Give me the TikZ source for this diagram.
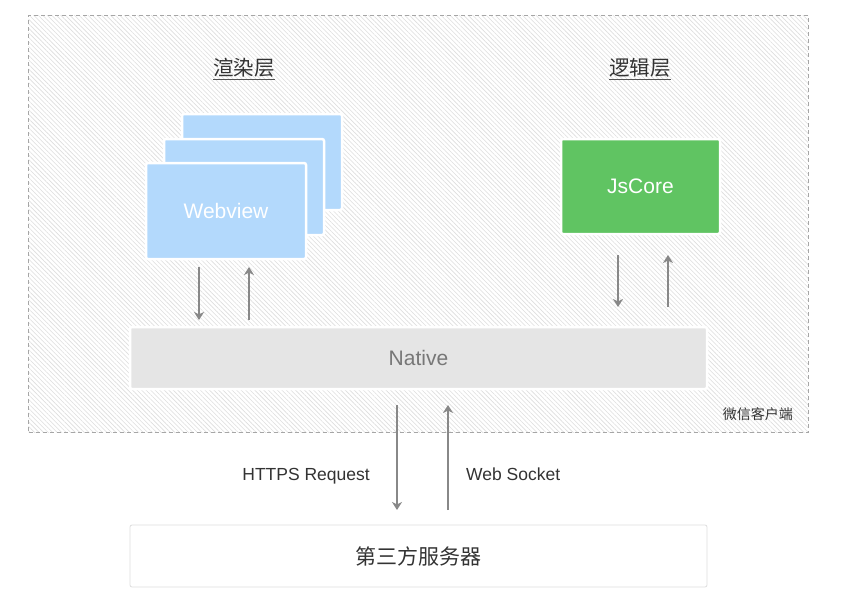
\documentclass[tikz,border=0pt]{standalone}
\usepackage{fontspec}
\setmainfont{Liberation Sans}
\newfontfamily\cjk{Noto Sans CJK SC}
\usetikzlibrary{arrows.meta, positioning, patterns.meta}
\definecolor{webblue}{RGB}{179,217,252}
\definecolor{coregreen}{RGB}{96,196,98}
\definecolor{nativegray}{RGB}{229,229,229}
\definecolor{nativetext}{RGB}{119,119,119}
\definecolor{arrowgray}{RGB}{136,136,136}
\definecolor{textdark}{RGB}{51,51,51}

\begin{document}
\begin{tikzpicture}[x=1pt, y=-1pt,
    box/.style={draw=white, line width=2.5pt, rounded corners=2pt, inner sep=0pt, outer sep=0pt},
    webbox/.style={box, fill=webblue, minimum width=160pt, minimum height=96pt},
    boxtext/.style={text=white, font=\fontsize{21}{25}\selectfont},
    flow/.style={-{Stealth[length=8pt, width=10pt, inset=2.5pt]}, arrowgray, line width=1.2pt},
    layertitle/.style={font=\cjk\fontsize{20.5}{24}\selectfont, text=textdark, inner sep=0pt, anchor=base},
    uline/.style={textdark!85, line width=1.6pt},
    lbl/.style={font=\fontsize{17.5}{21}\selectfont, text=textdark, inner sep=0pt}]
    \useasboundingbox (0,0) rectangle (846,597);
    \fill[white] (0,0) rectangle (846,597);

    % client frame
    \node[draw=black!35, line width=0.8pt, dash pattern=on 4pt off 3pt,
          pattern={Lines[angle=-45, distance=3.2pt, line width=0.6pt]}, pattern color=black!13,
          minimum width=779.5pt, minimum height=417pt, inner sep=0pt, outer sep=0pt]
          (client) at (418.25,224) {};
    \node[font=\cjk\fontsize{14}{16}\selectfont, text=textdark, anchor=south east, inner sep=0pt]
          (wechat) at ([xshift=-15pt, yshift=12pt]client.south east) {微信客户端};

    % titles
    \node[layertitle] (render) at (244,75) {渲染层};
    \node[layertitle] (logic) at (640,75) {逻辑层};
    \draw[uline] ([yshift=-4.5pt]render.base west) -- ([yshift=-4.5pt]render.base east);
    \draw[uline] ([yshift=-4.5pt]logic.base west) -- ([yshift=-4.5pt]logic.base east);

    % render layer
    \node[webbox] (web3) at (262,162) {};
    \node[webbox] (web2) at (244,187) {};
    \node[webbox, boxtext] (web1) at (226,211) {Webview};

    % logic layer
    \node[box, boxtext, fill=coregreen, minimum width=159pt, minimum height=95pt] (jscore) at (640.5,186.5) {JsCore};

    % native
    \node[box, fill=nativegray, minimum width=577pt, minimum height=62pt,
          text=nativetext, font=\fontsize{21}{25}\selectfont] (native) at (418.5,358) {Native};

    % server
    \node[draw=black!13, fill=white, line width=0.8pt, rounded corners=2pt, inner sep=0pt, outer sep=0pt,
          minimum width=577pt, minimum height=62pt, text=textdark, font=\cjk\fontsize{21}{25}\selectfont]
          (server) at (418.5,556) {第三方服务器};

    \draw[flow, shorten <=8pt, shorten >=7pt] ([xshift=-27pt]web1.south) -- ([xshift=-27pt]web1.south |- native.north);
    \draw[flow, shorten <=7pt, shorten >=8pt] ([xshift=23pt]web1.south |- native.north) -- ([xshift=23pt]web1.south);
    \draw[flow, shorten <=21pt, shorten >=20pt] ([xshift=-22.5pt]jscore.south) -- ([xshift=-22.5pt]jscore.south |- native.north);
    \draw[flow, shorten <=20pt, shorten >=21pt] ([xshift=27.5pt]jscore.south |- native.north) -- ([xshift=27.5pt]jscore.south);
    \draw[flow, shorten <=16pt, shorten >=15pt] ([xshift=-21.5pt]native.south) -- ([xshift=-21.5pt]native.south |- server.north);
    \draw[flow, shorten <=15pt, shorten >=16pt] ([xshift=29.5pt]native.south |- server.north) -- ([xshift=29.5pt]native.south);

    \node[lbl, anchor=base east] (https) at (370,480) {HTTPS Request};
    \node[lbl, anchor=base west] (socket) at (466,480) {Web Socket};
\end{tikzpicture}
\end{document}
